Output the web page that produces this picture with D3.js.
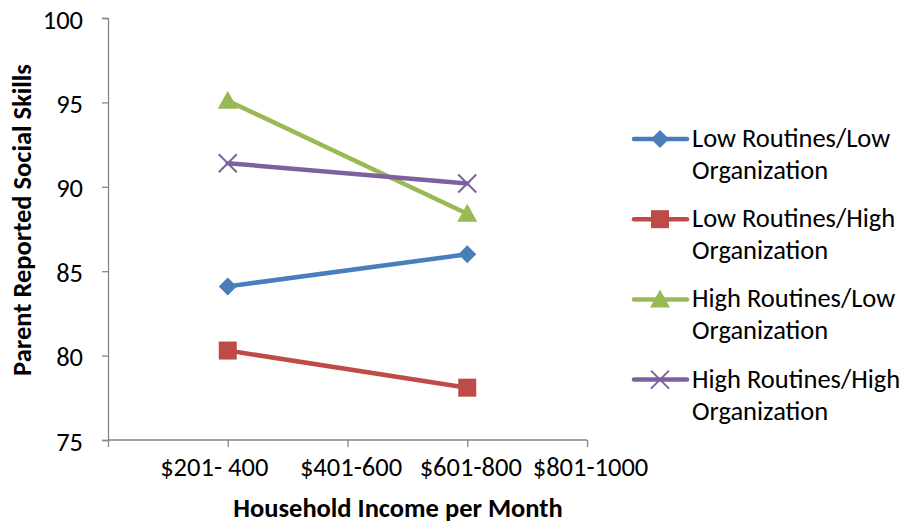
<!DOCTYPE html>
<html>
<head>
<meta charset="utf-8">
<script src="https://cdn.jsdelivr.net/npm/d3@7"></script>
<style>
  html, body { margin: 0; padding: 0; background: #fff; }
  svg { display: block; }
  text { font-family: Carlito, "Open Sans", sans-serif; fill: #000; }
</style>
</head>
<body>
<svg id="chart" width="903" height="527"></svg>
<script>
// Income brackets on the category axis (first slot is the empty origin slot)
const categories = ["", "$201- 400", "$401-600", "$601-800", "$801-1000"];
const measuredAt = ["$201- 400", "$601-800"];
const yTicks = [75, 80, 85, 90, 95, 100];

const seriesNames = [
  "Low Routines/Low Organization",
  "Low Routines/High Organization",
  "High Routines/Low Organization",
  "High Routines/High Organization"
];
const lowLow   = [84.1, 86.0];
const lowHigh  = [80.3, 78.1];
const highLow  = [95.1, 88.4];
const highHigh = [91.4, 90.2];
const seriesValues = [lowLow, lowHigh, highLow, highHigh];

const colors  = ["#4a7ebb", "#be4b48", "#98b954", "#7d60a0"];
const symbols = ["diamond", "square", "triangle", "cross"];

const svg = d3.select("#chart");
const margin = { left: 108, right: 587, top: 18, bottom: 440 };

const x = d3.scalePoint().domain(categories).range([margin.left, margin.right]).padding(0);
const y = d3.scaleLinear().domain([75, 100]).range([margin.bottom, margin.top]);

const axisColor = "#868686";
const labelSize = "26.5px";

// Y axis
const yAxis = svg.append("g")
  .attr("transform", `translate(${margin.left},0)`)
  .call(d3.axisLeft(y).tickValues(yTicks).tickSize(6).tickPadding(19).tickFormat(d3.format("d")));
yAxis.select(".domain").attr("stroke", axisColor).attr("stroke-width", 1.3);
yAxis.selectAll(".tick line").attr("stroke", axisColor).attr("stroke-width", 1.3);
yAxis.selectAll(".tick text").style("font-size", labelSize).attr("fill", "#000").attr("dy", "0.38em");

// X axis
const xAxis = svg.append("g")
  .attr("transform", `translate(0,${margin.bottom})`)
  .call(d3.axisBottom(x).tickSize(7).tickPadding(10));
xAxis.select(".domain").attr("stroke", axisColor).attr("stroke-width", 1.3)
  .attr("d", `M${margin.left},0H${margin.right}`);
xAxis.selectAll(".tick line").attr("stroke", axisColor).attr("stroke-width", 1.3);
xAxis.selectAll(".tick text").style("font-size", labelSize).attr("fill", "#000")
  .attr("dx", d => d === "$201- 400" ? -14 : 3);

// Axis titles
svg.append("text")
  .attr("x", 398).attr("y", 517)
  .attr("text-anchor", "middle")
  .style("font-size", labelSize).style("font-weight", "bold")
  .text("Household Income per Month");

svg.append("text")
  .attr("transform", "translate(31,220) rotate(-90)")
  .attr("text-anchor", "middle")
  .style("font-size", labelSize).style("font-weight", "bold")
  .text("Parent Reported Social Skills");

// Marker drawing
function drawMarker(g, type, color, cx, cy) {
  if (type === "diamond") {
    g.append("path").attr("d", `M${cx},${cy - 9}L${cx + 9},${cy}L${cx},${cy + 9}L${cx - 9},${cy}Z`)
      .attr("fill", color);
  } else if (type === "square") {
    g.append("rect").attr("x", cx - 9).attr("y", cy - 9).attr("width", 18).attr("height", 18)
      .attr("fill", color);
  } else if (type === "triangle") {
    g.append("path").attr("d", `M${cx},${cy - 10}L${cx + 10},${cy + 8}L${cx - 10},${cy + 8}Z`)
      .attr("fill", color);
  } else {
    g.append("path").attr("d", `M${cx - 9},${cy - 9}L${cx + 9},${cy + 9}M${cx - 9},${cy + 9}L${cx + 9},${cy - 9}`)
      .attr("stroke", color).attr("stroke-width", 2).attr("fill", "none");
  }
}

const line = d3.line().x((d, i) => x(measuredAt[i])).y(d => y(d));

seriesValues.forEach((vals, s) => {
  const g = svg.append("g");
  g.append("path").datum(vals).attr("d", line)
    .attr("fill", "none").attr("stroke", colors[s]).attr("stroke-width", 4.5)
    .attr("stroke-linecap", "round");
  vals.forEach((v, i) => drawMarker(g, symbols[s], colors[s], x(measuredAt[i]), y(v)));
});

// Legend
const legend = svg.append("g");
seriesNames.forEach((name, s) => {
  const cy = 139 + s * 80.2;
  const g = legend.append("g");
  g.append("line").attr("x1", 634).attr("x2", 687).attr("y1", cy).attr("y2", cy)
    .attr("stroke", colors[s]).attr("stroke-width", 4.5).attr("stroke-linecap", "round");
  drawMarker(g, symbols[s], colors[s], 660, cy);
  const parts = name.split("/");
  const t = g.append("text").attr("x", 692).attr("y", cy + 8).style("font-size", labelSize);
  t.append("tspan").attr("x", 692).text(parts[0] + "/" + parts[1].split(" ")[0]);
  t.append("tspan").attr("x", 692).attr("dy", 32).text(parts[1].split(" ").slice(1).join(" "));
});
</script>
</body>
</html>
